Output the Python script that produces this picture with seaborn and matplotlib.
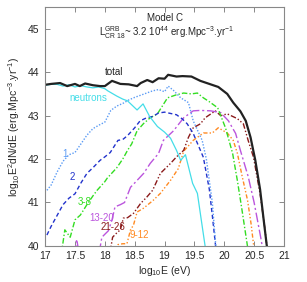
import numpy as np
import pandas as pd
import matplotlib
matplotlib.use("Agg")
import matplotlib.pyplot as plt
import seaborn as sns

# values (log10 E, log10 E^2 dN/dE)
total_x = [17.0, 17.1, 17.25, 17.37, 17.5, 17.58, 17.67, 17.8, 17.92, 18.0, 18.12, 18.26, 18.4,
           18.54, 18.6, 18.71, 18.8, 18.9, 19.0, 19.06, 19.2, 19.3, 19.45, 19.6, 19.75, 19.9,
           20.05, 20.15, 20.27, 20.36, 20.44, 20.52, 20.6, 20.66, 20.73]
total_y = [43.71, 43.73, 43.75, 43.68, 43.73, 43.68, 43.74, 43.7, 43.68, 43.68, 43.8, 43.73, 43.72,
           43.68, 43.75, 43.82, 43.77, 43.86, 43.85, 43.94, 43.9, 43.91, 43.9, 43.8, 43.73, 43.66,
           43.5, 43.3, 43.1, 42.88, 42.5, 41.97, 41.3, 40.6, 39.8]

neut_x = [17.0, 17.1, 17.2, 17.3, 17.4, 17.5, 17.6, 17.7, 17.8, 17.9, 18.0, 18.05, 18.2, 18.3,
          18.38, 18.54, 18.64, 18.75, 18.88, 19.0, 19.1, 19.2, 19.27, 19.35, 19.47, 19.55, 19.7]
neut_y = [43.7, 43.72, 43.72, 43.68, 43.71, 43.66, 43.69, 43.66, 43.64, 43.66, 43.62, 43.57, 43.45,
          43.38, 43.34, 43.13, 43.27, 42.98, 42.75, 42.62, 42.48, 42.2, 41.97, 42.1, 41.44, 41.21, 39.8]

c1_x = [17.03, 17.1, 17.2, 17.3, 17.4, 17.5, 17.6, 17.7, 17.8, 17.9, 18.0, 18.1, 18.2, 18.3,
        18.4, 18.5, 18.6, 18.7, 18.8, 18.9, 19.0, 19.06, 19.15, 19.27, 19.4, 19.48, 19.63, 19.7,
        19.8, 19.87]
c1_y = [41.28, 41.4, 41.7, 41.95, 42.1, 42.15, 42.35, 42.55, 42.7, 42.78, 42.85, 43.12, 43.22, 43.28,
        43.36, 43.42, 43.47, 43.52, 43.57, 43.6, 43.55, 43.68, 43.58, 43.41, 43.3, 42.88, 42.43, 42.0,
        41.0, 39.8]

c2_x = [17.03, 17.1, 17.2, 17.3, 17.4, 17.5, 17.6, 17.7, 17.8, 17.92, 18.0, 18.09, 18.22, 18.3,
        18.38, 18.5, 18.59, 18.7, 18.8, 18.9, 19.0, 19.1, 19.2, 19.3, 19.38, 19.48, 19.65, 19.75,
        19.8, 19.87]
c2_y = [40.25, 40.45, 40.7, 40.95, 41.1, 41.2, 41.45, 41.67, 41.8, 41.97, 42.05, 42.15, 42.43, 42.45,
        42.54, 42.72, 42.88, 42.95, 42.98, 43.06, 43.08, 43.05, 43.02, 42.92, 42.81, 42.59, 42.04, 41.3,
        40.7, 39.8]

c38_x = [17.27, 17.33, 17.42, 17.5, 17.59, 17.7, 17.8, 17.87, 18.0, 18.04, 18.2, 18.3, 18.38, 18.45,
         18.54, 18.65, 18.76, 18.88, 19.05, 19.2, 19.32, 19.45, 19.55, 19.65, 19.75, 19.89, 20.02,
         20.14, 20.22, 20.3, 20.41]
c38_y = [39.8, 40.37, 40.2, 40.6, 40.71, 40.95, 41.15, 41.28, 41.48, 41.56, 41.8, 42.0, 42.2, 42.35,
         42.65, 42.82, 42.95, 43.04, 43.41, 43.48, 43.52, 43.5, 43.52, 43.41, 43.32, 43.18, 42.72,
         42.13, 41.5, 40.8, 39.8]

c1320_x = [17.49, 17.53, 17.57, 17.9, 17.95, 18.06, 18.12, 18.17, 18.26, 18.33, 18.43, 18.5,
           18.65, 18.76, 18.9, 18.98, 19.15, 19.32, 19.48, 19.6, 19.77, 19.94, 20.07, 20.19, 20.27,
           20.4, 20.5, 20.61, 20.66]
c1320_y = [39.8, 40.15, 39.8, 39.8, 40.2, 40.35, 40.6, 40.9, 40.95, 41.0, 41.35, 41.45,
           41.67, 41.9, 42.13, 42.43, 42.65, 42.95, 43.11, 43.12, 43.11, 43.07, 42.88, 42.59, 42.2,
           41.6, 41.0, 40.2, 39.8]

c2126_x = [18.08, 18.13, 18.2, 18.26, 18.31, 18.38, 18.48, 18.6, 18.7, 18.8, 18.93, 19.1, 19.2,
           19.32, 19.4, 19.48, 19.6, 19.68, 19.85, 19.94, 20.05, 20.22, 20.32, 20.4, 20.49, 20.6,
           20.68, 20.73]
c2126_y = [39.8, 40.2, 40.3, 40.37, 40.64, 40.65, 40.75, 40.98, 41.12, 41.28, 41.67, 41.9, 42.05,
           42.2, 42.5, 42.72, 42.81, 42.95, 43.11, 43.0, 43.04, 42.93, 42.81, 42.43, 42.04, 41.2,
           40.4, 39.8]

c912_x = [18.2, 18.22, 18.3, 18.37, 18.43, 18.48, 18.54, 18.65, 18.81, 18.93, 19.1, 19.23, 19.32,
          19.48, 19.65, 19.8, 19.9, 20.05, 20.15, 20.22, 20.3, 20.39, 20.45, 20.51]
c912_y = [39.8, 40.03, 40.05, 40.05, 40.37, 40.48, 40.78, 40.87, 41.05, 41.21, 41.51, 41.78, 42.18,
          42.43, 42.6, 42.6, 42.72, 42.6, 42.43, 42.13, 41.6, 41.05, 40.5, 39.8]

series = [
    ("total", total_x, total_y, "#222222", "-", 1.6),
    ("neutrons", neut_x, neut_y, "#44dde8", "-", 0.9),
    ("1", c1_x, c1_y, "#5b9bf5", (0, (1, 1.2)), 1.0),
    ("2", c2_x, c2_y, "#2233cc", (0, (3, 2)), 1.0),
    ("3-8", c38_x, c38_y, "#33dd22", (0, (4, 1.5, 1, 1.5)), 1.0),
    ("13-20", c1320_x, c1320_y, "#bb55dd", (0, (7, 2, 1.5, 2)), 1.0),
    ("21-26", c2126_x, c2126_y, "#8b1a1a", (0, (4, 1.5, 1, 1.5, 1, 1.5)), 1.0),
    ("9-12", c912_x, c912_y, "#ff8a22", (0, (3, 1.5, 1, 1.5, 1, 1.5)), 1.0),
]

labels = [
    ("total", 18.16, 44.0, "#222222"),
    ("neutrons", 17.72, 43.41, "#44dde8"),
    ("1", 17.34, 42.12, "#5b9bf5"),
    ("2", 17.45, 41.58, "#2233cc"),
    ("3-8", 17.66, 41.0, "#33dd22"),
    ("13-20", 17.94, 40.64, "#bb55dd"),
    ("21-26", 18.13, 40.43, "#8b1a1a"),
    ("9-12", 18.58, 40.25, "#ff8a22"),
]

sns.set_theme(style="ticks")
plt.rcParams["font.family"] = ["Liberation Sans", "DejaVu Sans"]
plt.rcParams["mathtext.fontset"] = "custom"
plt.rcParams["mathtext.rm"] = "Liberation Sans"
plt.rcParams["mathtext.it"] = "Liberation Sans"

fig = plt.figure(figsize=(3.07, 2.82), dpi=100)
ax = fig.add_axes([0.147, 0.128, 0.778, 0.847])

for name, xs, ys, col, ls, lw in series[::-1]:
    df = pd.DataFrame({"x": xs, "y": ys})
    sns.lineplot(data=df, x="x", y="y", ax=ax, color=col, linestyle=ls,
                 linewidth=lw, sort=False, estimator=None)

for txt, x, y, col in labels:
    ax.text(x, y, txt, color=col, fontsize=7, ha="center", va="center")

ax.text(0.5, 0.955, "Model C", transform=ax.transAxes, ha="center", va="center", fontsize=7)
ax.text(0.51, 0.893, r"L$_{\rm CR\ 18}^{\rm GRB}$~ 3.2 10$^{44}$ erg.Mpc$^{-3}$.yr$^{-1}$",
        transform=ax.transAxes, ha="center", va="center", fontsize=7)

ax.set_xlim(17, 21)
ax.set_ylim(40, 45.5)
ax.set_xticks(np.arange(17, 21.01, 0.5))
ax.set_xticklabels(["17", "17.5", "18", "18.5", "19", "19.5", "20", "20.5", "21"])
ax.set_yticks([40, 41, 42, 43, 44, 45])
ax.set_xlabel(r"log$_{10}$E (eV)", fontsize=7.5, labelpad=2)
ax.set_ylabel(r"log$_{10}$E$^2$dN/dE (erg.Mpc$^{-3}$.yr$^{-1}$)", fontsize=7.5, labelpad=4)
ax.tick_params(direction="in", top=True, right=True, length=3.5, width=0.7,
               color="#888888", labelsize=7.5, pad=4)
for sp in ax.spines.values():
    sp.set_visible(True)
    sp.set_color("#888888")
    sp.set_linewidth(0.8)

fig.savefig("out.png", dpi=100)
